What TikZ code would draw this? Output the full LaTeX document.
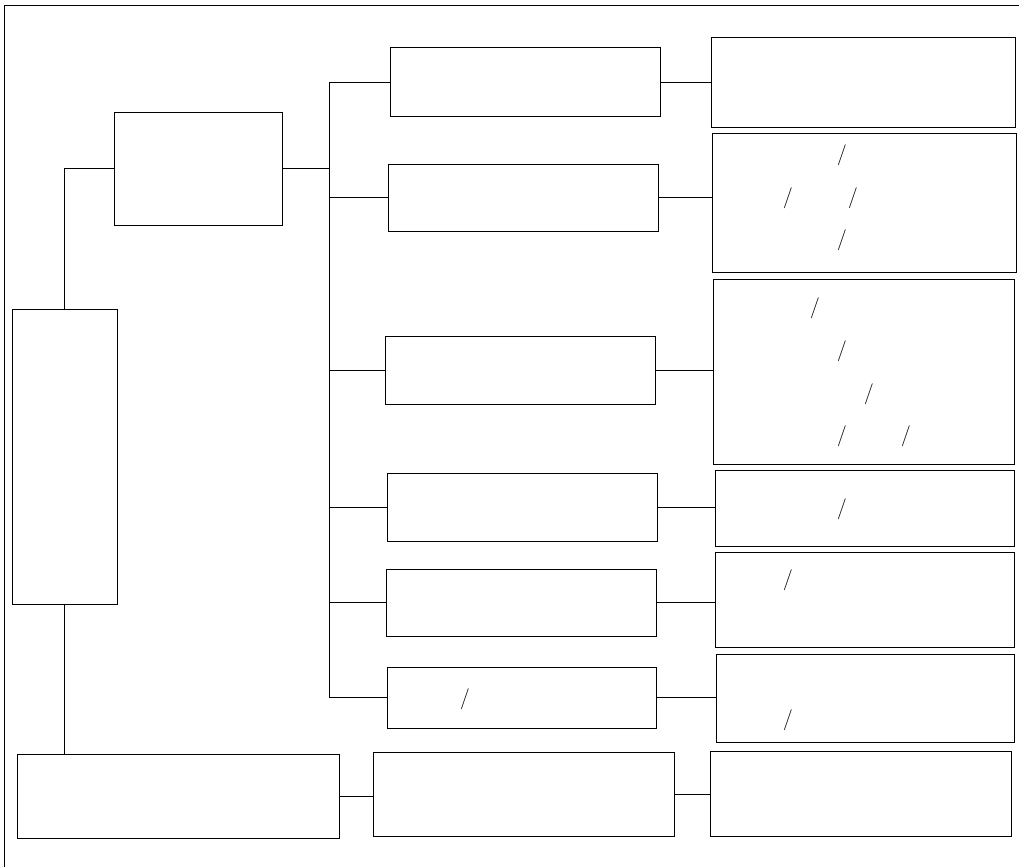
\documentclass[tikz,border=0pt]{standalone}
\begin{document}
\begin{tikzpicture}[x=1pt,y=-1pt,
  box/.style={draw,line width=1pt,inner sep=0pt,outer sep=0pt},
  conn/.style={line width=1pt},
  sl/.style={inner sep=0pt,font=\fontsize{21}{21}\selectfont}]
\useasboundingbox (0,0) rectangle (1019,867);
% frame
\coordinate (f1) at (4,867);
\coordinate (f2) at (4,6);
\coordinate (f3) at (1019,6);
\draw[conn] (f1) -- (f2) -- (f3);
% boxes
\node[box,minimum width=105,minimum height=295] (A) at (64.5,456.5) {};
\node[box,minimum width=168,minimum height=113] (B) at (198,168.5) {};
\node[box,minimum width=270,minimum height=68] (M1) at (525,82) {};
\node[box,minimum width=270,minimum height=67] (M2) at (523,197.5) {};
\node[box,minimum width=270,minimum height=68] (M3) at (520,370) {};
\node[box,minimum width=270,minimum height=68] (M4) at (522,507) {};
\node[box,minimum width=270,minimum height=67] (M5) at (521,602.5) {};
\node[box,minimum width=269,minimum height=61] (M6) at (521.5,697.5) {};
\node[box,minimum width=304,minimum height=89] (R1) at (863,82.5) {};
\node[box,minimum width=304,minimum height=139] (R2) at (864,202.5) {};
\node[box,minimum width=301,minimum height=185] (R3) at (863.5,371.5) {};
\node[box,minimum width=299,minimum height=76] (R4) at (864.5,508) {};
\node[box,minimum width=299,minimum height=95] (R5) at (864.5,599.5) {};
\node[box,minimum width=298,minimum height=88] (R6) at (865,698) {};
\node[box,minimum width=322,minimum height=84] (C1) at (178,796) {};
\node[box,minimum width=301,minimum height=84] (C2) at (523.5,794) {};
\node[box,minimum width=301,minimum height=85] (C3) at (860.5,793.5) {};
% slashes
\node[sl] (s1) at (842,155) {/};
\node[sl] (s2) at (788,198) {/};
\node[sl] (s3) at (853,198) {/};
\node[sl] (s4) at (842,240) {/};
\node[sl] (s5) at (815,308) {/};
\node[sl] (s6) at (842,351) {/};
\node[sl] (s7) at (869,394) {/};
\node[sl] (s8) at (842,436) {/};
\node[sl] (s9) at (906,436) {/};
\node[sl] (s10) at (842,509) {/};
\node[sl] (s11) at (788,580) {/};
\node[sl] (s12) at (788,720) {/};
\node[sl] (s13) at (465,699) {/};
% trunk
\coordinate (tr) at (329,0);
\draw[conn] (A.north) |- (B.west);
\draw[conn] (A.south) -- (C1.north -| A.south);
\draw[conn] (B.east) -- (B.east -| tr);
\draw[conn] (M1.west -| tr) -- (M6.west -| tr);
\foreach \m in {M1,M2,M3,M4,M5,M6} \draw[conn] (\m.west) -- (\m.west -| tr);
\draw[conn] (M1.east) -- (M1.east -| R1.west);
\draw[conn] (M2.east) -- (M2.east -| R2.west);
\draw[conn] (M3.east) -- (M3.east -| R3.west);
\draw[conn] (M4.east) -- (M4.east -| R4.west);
\draw[conn] (M5.east) -- (M5.east -| R5.west);
\draw[conn] (M6.east) -- (M6.east -| R6.west);
\draw[conn] (C1.east) -- (C1.east -| C2.west);
\draw[conn] (C2.east) -- (C2.east -| C3.west);
\end{tikzpicture}
\end{document}
